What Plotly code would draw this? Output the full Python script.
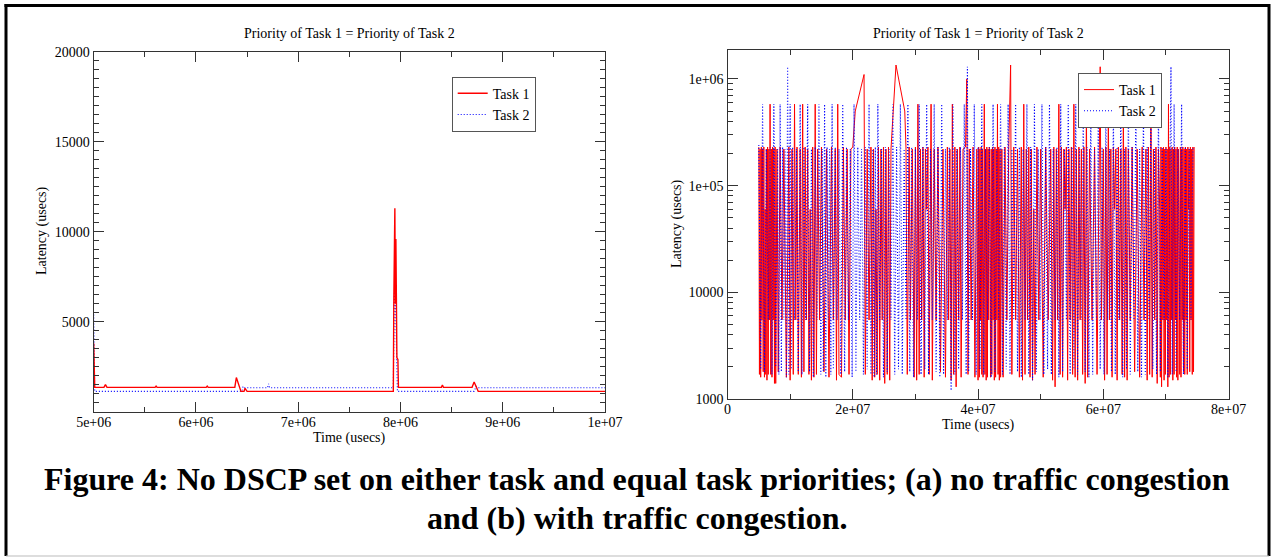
import plotly.graph_objects as go

W, H = 1274, 559

# ---------------- Panel (a): no congestion (time in seconds, latency in usecs) ----------------
a_task1_t = [5.000, 5.004, 5.010, 5.100, 5.115, 5.130, 5.600, 5.610, 5.620, 6.100, 6.110, 6.120,
             6.380, 6.395, 6.420, 6.440, 6.470, 6.480, 6.500, 7.930, 7.935, 7.945, 7.950, 7.955,
             7.960, 7.965, 7.975, 7.980, 8.400, 8.410, 8.420, 8.700, 8.720, 8.740, 8.760, 10.000]
a_task1_y = [3800, 2500, 1350, 1350, 1500, 1350, 1350, 1420, 1350, 1350, 1420, 1350,
             1360, 1900, 1500, 1130, 1130, 1300, 1130, 1130, 6300, 11300, 6000, 9600,
             6300, 3000, 2900, 1350, 1350, 1480, 1350, 1360, 1650, 1350, 1130, 1130]
a_task2_t = [5.000, 5.004, 5.010, 6.400, 6.450, 6.460, 6.470, 6.700, 6.710, 6.720, 7.930, 7.938,
             7.945, 7.955, 7.965, 7.970, 8.720, 8.740, 8.750, 10.000]
a_task2_y = [5400, 3000, 1130, 1130, 1130, 1400, 1330, 1330, 1550, 1330, 1330, 6000,
             7480, 5000, 1800, 1130, 1130, 1400, 1330, 1330]

# ---------------- Panel (b): with congestion, (time in s, latency in usecs) ----------------
b_task1_points = [
    (5.0, 230000), (5.1, 1700), (5.2, 220000), (5.3, 1600), (5.4, 230000), (5.5, 5500), (5.6, 220000),
    (5.7, 1800), (5.8, 230000), (5.9, 1600), (6.0, 60000), (6.1, 1700), (6.2, 220000), (6.3, 1500),
    (6.4, 230000), (6.5, 1700), (6.6, 220000), (6.7, 5500), (6.8, 580000), (6.9, 1700), (7.0, 220000),
    (7.1, 1600), (7.2, 230000), (7.3, 5500), (7.4, 220000), (7.5, 1400), (7.6, 230000),
    (7.7, 1400), (7.9, 220000), (8.1, 1800), (8.4, 230000), (8.7, 5500), (9.0, 220000), (9.4, 1600),
    (9.8, 230000), (10.0, 1500), (10.3, 220000), (10.5, 1700), (10.7, 580000), (10.9, 5500),
    (11.1, 230000), (11.3, 1700), (11.6, 220000), (11.8, 1600), (12.0, 580000), (12.2, 1800),
    (12.4, 230000), (12.6, 5500), (12.8, 220000), (13.0, 1700), (13.2, 60000), (13.4, 1500),
    (13.6, 230000), (13.8, 1600), (14.0, 580000), (14.2, 1700), (14.4, 220000), (14.7, 5500),
    (15.0, 230000), (15.4, 1800), (15.8, 220000), (16.2, 1600), (16.6, 230000), (16.9, 5500),
    (17.2, 220000), (17.4, 1500), (17.6, 580000), (17.8, 1700), (18.2, 1600), (18.5, 230000),
    (18.8, 5500), (19.1, 220000), (19.4, 1700), (19.7, 220000), (20.0, 230000), (20.4, 500000),
    (21.8, 1100000), (22.0, 1700), (22.3, 220000), (22.6, 5500), (22.9, 230000), (23.1, 1500),
    (23.3, 220000), (23.5, 1600), (23.7, 60000), (23.9, 1700), (24.1, 230000), (24.3, 1500),
    (24.5, 220000), (24.7, 5500), (24.9, 230000), (25.1, 1400), (25.3, 220000), (25.5, 1700),
    (25.7, 230000), (25.9, 1500), (26.1, 220000), (26.9, 1350000), (28.3, 500000), (28.5, 220000),
    (28.7, 1700), (29.0, 230000), (29.2, 5500), (29.5, 220000), (29.8, 1600), (30.0, 230000),
    (30.2, 1500), (30.4, 580000), (30.6, 1700), (30.8, 220000), (31.0, 5500), (31.2, 230000),
    (31.4, 1600), (31.6, 220000), (31.8, 60000), (32.0, 230000), (32.2, 1700), (32.5, 580000),
    (32.7, 1500), (33.0, 220000), (33.3, 5500), (33.6, 230000), (34.0, 1800), (34.4, 220000),
    (34.8, 1600), (35.1, 230000), (35.3, 5500), (35.5, 220000), (35.7, 1500), (35.9, 580000),
    (36.1, 1700), (36.3, 230000), (36.5, 1300), (36.7, 220000), (36.9, 5500), (37.1, 230000),
    (37.3, 1600), (37.6, 220000), (38.0, 230000), (38.2, 1000000), (38.4, 1700), (38.6, 220000),
    (38.9, 5500), (39.2, 230000), (39.5, 1600), (39.8, 220000),
    (40.0, 1500), (40.1, 230000), (40.2, 1600), (40.3, 220000), (40.4, 5500), (40.5, 230000),
    (40.6, 1700), (40.7, 220000), (40.8, 1600), (40.9, 230000), (41.0, 580000), (41.1, 1700),
    (41.2, 220000), (41.3, 1500), (41.4, 230000), (41.5, 1600), (41.6, 220000), (41.7, 5500),
    (41.8, 230000), (41.9, 60000), (42.0, 1600), (42.1, 220000), (42.2, 1700), (42.3, 230000),
    (42.4, 5500), (42.5, 220000), (42.6, 1500), (42.7, 230000), (42.8, 1600), (42.9, 220000),
    (43.0, 5500), (43.1, 580000), (43.2, 1700), (43.3, 230000), (43.4, 1500), (43.5, 220000),
    (43.6, 1600), (43.8, 220000), (44.0, 1600), (44.3, 230000), (44.6, 5500), (44.9, 220000),
    (45.2, 1350000), (45.4, 1700), (45.7, 230000), (46.0, 5500), (46.3, 220000), (46.6, 1600),
    (46.9, 230000), (47.1, 1500), (47.3, 580000), (47.5, 1700), (47.7, 220000), (47.9, 5500),
    (48.1, 230000), (48.3, 1600), (48.5, 220000), (48.7, 1500), (48.9, 60000), (49.1, 1700),
    (49.4, 230000), (49.7, 5500), (50.0, 220000), (50.4, 1600), (50.8, 230000), (51.2, 5500),
    (51.6, 220000), (51.9, 1500), (52.1, 230000), (52.3, 1300), (52.5, 220000), (52.7, 5500),
    (52.9, 580000), (53.1, 1700), (53.3, 230000), (53.5, 1600), (53.7, 220000), (53.9, 60000),
    (54.1, 230000), (54.3, 1500), (54.5, 220000), (54.7, 5500), (54.9, 230000), (55.1, 1700),
    (55.3, 580000), (55.5, 1600), (55.7, 220000), (55.9, 1500), (56.1, 230000), (56.3, 5500),
    (56.5, 220000), (56.7, 1700), (56.9, 230000), (57.1, 1400), (57.3, 580000), (57.5, 1600),
    (57.8, 220000), (58.2, 5500), (58.6, 230000), (59.0, 1700), (59.5, 1300000), (59.7, 5500),
    (60.0, 220000), (60.2, 1500), (60.4, 230000), (60.6, 1700), (60.8, 580000), (61.0, 5500),
    (61.2, 220000), (61.4, 1600), (61.6, 230000), (61.8, 60000), (62.0, 220000), (62.2, 1500),
    (62.4, 230000), (62.6, 5500), (62.8, 220000), (63.0, 1700), (63.2, 580000), (63.4, 1600),
    (63.6, 230000), (63.8, 1500), (64.0, 220000), (64.3, 5500), (64.6, 230000), (65.0, 1800),
    (65.4, 220000), (65.8, 1600), (66.2, 230000), (66.5, 5500), (66.8, 220000), (67.0, 1500),
    (67.2, 230000), (67.4, 1700), (67.6, 580000), (67.8, 1600), (68.0, 220000), (68.2, 5500),
    (68.4, 230000), (68.6, 1400), (68.8, 220000),
    (69.0, 60000), (69.1, 1600), (69.2, 230000), (69.3, 1300), (69.4, 220000), (69.5, 5500),
    (69.6, 230000), (69.7, 1500), (69.8, 220000), (69.9, 1700), (70.0, 230000), (70.1, 5500),
    (70.2, 220000), (70.3, 1300), (70.4, 580000), (70.5, 1600), (70.6, 230000), (70.7, 1700),
    (70.8, 220000), (70.9, 5500), (71.0, 230000), (71.1, 1500), (71.2, 220000), (71.3, 1700),
    (71.4, 230000), (71.5, 5500), (71.6, 220000), (71.7, 1600), (71.8, 230000), (71.9, 1500),
    (72.0, 220000), (72.1, 60000), (72.2, 1700), (72.3, 230000), (72.4, 1600), (72.5, 220000),
    (72.6, 5500), (72.7, 230000), (72.8, 1800), (72.9, 220000), (73.0, 1700), (73.1, 230000),
    (73.2, 5500), (73.3, 220000), (73.4, 1700), (73.5, 230000), (73.6, 60000), (73.7, 220000),
    (73.8, 1800), (73.9, 230000), (74.0, 5500), (74.1, 220000), (74.2, 1700), (74.3, 230000),
    (74.4, 1800), (74.5, 230000),
]
b_task2_points = [
    (5.0, 240000), (5.3, 1900), (5.6, 580000), (5.9, 1800), (6.2, 220000), (6.5, 5500), (6.8, 230000),
    (7.1, 1700), (7.4, 580000), (7.7, 2000), (8.0, 220000), (8.2, 1700), (8.4, 580000), (8.6, 1800),
    (8.8, 230000), (9.0, 5500), (9.2, 220000), (9.4, 1600), (9.6, 1300000), (9.8, 1700),
    (10.0, 580000), (10.2, 1900), (10.4, 230000), (10.7, 5500), (11.0, 220000), (11.3, 1800),
    (11.6, 580000), (11.9, 1700), (12.2, 230000), (12.5, 5500), (12.8, 580000), (13.1, 1800),
    (13.4, 220000), (13.7, 1600), (14.0, 230000), (14.3, 5500), (14.6, 580000), (14.9, 1700),
    (15.1, 220000), (15.3, 1800), (15.5, 580000), (15.7, 1600), (15.9, 230000), (16.1, 5500),
    (16.3, 220000), (16.5, 1700), (16.7, 580000), (16.9, 1900), (17.2, 230000), (17.5, 5500),
    (17.8, 220000), (18.1, 1700), (18.4, 580000), (18.7, 1800), (19.0, 230000), (19.3, 5500),
    (19.6, 220000), (19.9, 1600), (20.2, 580000), (20.5, 1800), (20.8, 230000), (21.1, 5500),
    (21.4, 220000), (21.7, 1700), (22.0, 230000), (22.3, 1900), (22.6, 580000), (22.9, 1700),
    (23.2, 220000), (23.4, 1600), (23.6, 230000), (23.8, 1700), (24.0, 580000), (24.3, 5500),
    (24.6, 220000), (24.9, 1600), (25.2, 230000), (25.5, 1800), (25.8, 220000), (26.1, 5500),
    (26.4, 580000), (26.7, 1700), (27.0, 230000), (27.3, 1900), (27.6, 580000), (27.9, 1700),
    (28.2, 220000), (28.5, 5500), (28.8, 580000), (29.1, 1800), (29.4, 230000), (29.7, 1600),
    (30.0, 220000), (30.3, 5500), (30.6, 580000), (30.9, 1700), (31.2, 230000), (31.5, 1900),
    (31.8, 580000), (32.1, 1700), (32.4, 220000), (32.7, 5500), (33.0, 580000), (33.3, 1800),
    (33.6, 230000), (33.9, 1600), (34.2, 580000), (34.5, 1700), (34.8, 220000), (35.1, 5500),
    (35.4, 230000), (35.7, 1200), (36.0, 580000), (36.3, 1700), (36.6, 220000), (36.9, 1900),
    (37.2, 230000), (37.5, 5500), (37.8, 580000), (38.1, 1700), (38.3, 1300000), (38.5, 1800),
    (38.8, 220000), (39.1, 5500), (39.4, 580000), (39.7, 1700), (40.0, 230000), (40.3, 1900),
    (40.6, 580000), (40.9, 1700), (41.2, 220000), (41.5, 5500), (41.8, 230000), (42.1, 1600),
    (42.4, 580000), (42.7, 1800), (43.0, 220000), (43.3, 5500), (43.6, 580000), (43.9, 1700),
    (44.2, 230000), (44.5, 1900), (44.8, 580000), (45.1, 1700), (45.4, 220000), (45.7, 5500),
    (46.0, 580000), (46.3, 1800), (46.6, 230000), (46.9, 1600), (47.2, 220000), (47.5, 5500),
    (47.8, 580000), (48.1, 1700), (48.4, 230000), (48.7, 1500), (49.0, 580000), (49.3, 1800),
    (49.6, 220000), (49.9, 5500), (50.2, 580000), (50.5, 1700), (50.8, 230000), (51.1, 1900),
    (51.4, 580000), (51.7, 1700), (52.0, 220000), (52.3, 5500), (52.6, 230000), (52.9, 1600),
    (53.2, 580000), (53.5, 1800), (53.8, 220000), (54.1, 5500), (54.4, 580000), (54.7, 1700),
    (55.0, 230000), (55.3, 1900), (55.6, 580000), (55.9, 1700), (56.2, 220000), (56.5, 5500),
    (56.8, 580000), (57.1, 1800), (57.4, 230000), (57.7, 1600), (58.0, 580000), (58.3, 1700),
    (58.6, 220000), (58.9, 5500), (59.2, 580000), (59.5, 1900), (59.8, 230000), (60.1, 1700),
    (60.4, 580000), (60.7, 5500), (61.0, 220000), (61.3, 1800), (61.6, 580000), (61.9, 1700),
    (62.2, 230000), (62.5, 5500), (62.8, 580000), (63.1, 1600), (63.4, 220000), (63.7, 1900),
    (64.0, 580000), (64.3, 1700), (64.6, 230000), (64.9, 5500), (65.2, 580000), (65.5, 1800),
    (65.8, 220000), (66.1, 1600), (66.4, 580000), (66.7, 1700), (67.0, 230000), (67.3, 5500),
    (67.6, 580000), (67.9, 1900), (68.2, 220000), (68.5, 1700), (68.8, 580000), (69.1, 1800),
    (69.4, 230000), (69.7, 5500), (70.0, 220000), (70.3, 1600), (70.8, 1300000), (71.0, 1700),
    (71.3, 580000), (71.6, 1800), (71.9, 220000), (72.2, 5500), (72.5, 580000), (72.8, 1700),
    (73.1, 230000), (73.4, 1900), (73.7, 220000), (74.0, 5500), (74.3, 230000),
]

a_xticks = [5e6, 6e6, 7e6, 8e6, 9e6, 1e7]
a_xtext = ["5e+06", "6e+06", "7e+06", "8e+06", "9e+06", "1e+07"]
a_yticks = [5000, 10000, 15000, 20000]
a_ytext = ["5000", "10000", "15000", "20000"]
b_xticks = [0, 2e7, 4e7, 6e7, 8e7]
b_xtext = ["0", "2e+07", "4e+07", "6e+07", "8e+07"]
b_yticks = [1000, 10000, 100000, 1000000]
b_ytext = ["1000", "10000", "1e+05", "1e+06"]

title_text = "Priority of Task 1 = Priority of Task 2"
caption1 = "Figure 4: No DSCP set on either task and equal task priorities; (a) no traffic congestion"
caption2 = "and (b) with traffic congestion."

USEC = 1e6
SERIF = "Liberation Serif, Times New Roman, serif"
RED = "#ff0000"
BLUE = "#0000ff"
DOT = "1px,2px"

b1_t = [p[0] * USEC for p in b_task1_points]
b1_y = [p[1] for p in b_task1_points]
b2_t = [p[0] * USEC for p in b_task2_points]
b2_y = [p[1] for p in b_task2_points]


def px(x):
    return x / W


def py(y):
    return 1 - y / H


fig = go.Figure()
fig.add_trace(go.Scatter(x=[t * USEC for t in a_task2_t], y=a_task2_y, mode="lines", name="Task 2",
                         line=dict(color=BLUE, width=1.1, dash=DOT), xaxis="x", yaxis="y",
                         legend="legend", legendrank=2))
fig.add_trace(go.Scatter(x=[t * USEC for t in a_task1_t], y=a_task1_y, mode="lines", name="Task 1",
                         line=dict(color=RED, width=1.4), xaxis="x", yaxis="y",
                         legend="legend", legendrank=1))
fig.add_trace(go.Scatter(x=b1_t, y=b1_y, mode="lines", name="Task 1",
                         line=dict(color=RED, width=1.0), xaxis="x2", yaxis="y2",
                         legend="legend2", legendrank=1))
fig.add_trace(go.Scatter(x=b2_t, y=b2_y, mode="lines", name="Task 2",
                         line=dict(color=BLUE, width=1.1, dash=DOT), xaxis="x2", yaxis="y2",
                         legend="legend2", legendrank=2))

axis_common = dict(showline=True, linecolor="#333", linewidth=1.2, mirror="ticks", ticks="inside",
                   ticklen=10, tickcolor="#333", tickwidth=1.2, showgrid=False, zeroline=False,
                   tickfont=dict(family=SERIF, size=14, color="black"), tickmode="array")

legend_common = dict(xanchor="left", yanchor="top", bgcolor="white", bordercolor="#555",
                     borderwidth=1, font=dict(family=SERIF, size=14, color="black"),
                     itemwidth=30, tracegroupgap=0, traceorder="normal")

fig.update_layout(
    width=W, height=H, margin=dict(l=0, r=0, t=0, b=0, pad=0, autoexpand=False),
    paper_bgcolor="white", plot_bgcolor="white",
    xaxis=dict(domain=[px(93.7), px(605)], range=[5e6, 1e7], tickvals=a_xticks, ticktext=a_xtext,
               anchor="y", ticklabelstandoff=-3,
               minor=dict(dtick=5e5, ticks="inside", ticklen=5, tickcolor="#333"), **axis_common),
    yaxis=dict(domain=[py(411.7), py(51.7)], range=[0, 20000], tickvals=a_yticks, ticktext=a_ytext,
               anchor="x", minor=dict(dtick=500, ticks="inside", ticklen=5, tickcolor="#333"),
               **axis_common),
    xaxis2=dict(domain=[px(727.5), px(1228.6)], range=[0, 8e7], tickvals=b_xticks, ticktext=b_xtext,
                anchor="y2", ticklabelstandoff=-3,
                minor=dict(dtick=1e7, ticks="inside", ticklen=5, tickcolor="#333"), **axis_common),
    yaxis2=dict(domain=[py(399), py(49.7)], type="log", range=[3, 6.274], tickvals=b_yticks,
                ticktext=b_ytext, anchor="x2",
                minor=dict(dtick="D1", ticks="inside", ticklen=5, tickcolor="#333"),
                **axis_common),
    legend=dict(x=px(451.7), y=py(76.7), **legend_common),
    legend2=dict(x=px(1078), y=py(73), **legend_common),
    showlegend=True,
)

ann = [
    dict(text=title_text, x=px(349.4), y=py(33), size=14, angle=0),
    dict(text=title_text, x=px(978), y=py(33), size=14, angle=0),
    dict(text="Time (usecs)", x=px(349.4), y=py(438), size=14, angle=0),
    dict(text="Time (usecs)", x=px(978), y=py(425), size=14, angle=0),
    dict(text="Latency (usecs)", x=px(42), y=py(231), size=14, angle=-90),
    dict(text="Latency (usecs)", x=px(677), y=py(224), size=14, angle=-90),
    dict(text="<b>" + caption1 + "</b>", x=0.5, y=py(479), size=32, angle=0),
    dict(text="<b>" + caption2 + "</b>", x=0.5, y=py(518), size=32, angle=0),
]
for a in ann:
    fig.add_annotation(text=a["text"], x=a["x"], y=a["y"], xref="paper", yref="paper",
                       xanchor="center", yanchor="middle", showarrow=False, textangle=a["angle"],
                       font=dict(family=SERIF, size=a["size"], color="black"))

# figure frame
fig.add_shape(type="line", xref="paper", yref="paper", x0=px(6), x1=px(6), y0=py(4), y1=py(556),
              line=dict(color="black", width=3))
fig.add_shape(type="line", xref="paper", yref="paper", x0=px(4.5), x1=px(1270), y0=py(5.5), y1=py(5.5),
              line=dict(color="black", width=3))
fig.add_shape(type="line", xref="paper", yref="paper", x0=px(1269), x1=px(1269), y0=py(4), y1=py(556),
              line=dict(color="black", width=3))
fig.add_shape(type="line", xref="paper", yref="paper", x0=px(6), x1=px(1269), y0=py(556), y1=py(556),
              line=dict(color="#bbb", width=1))

# remove the default 8px page margin so the figure sits at the window origin
fig.write_html("out.html", config={"displayModeBar": False},
               post_script="document.body.style.margin='0px';")
